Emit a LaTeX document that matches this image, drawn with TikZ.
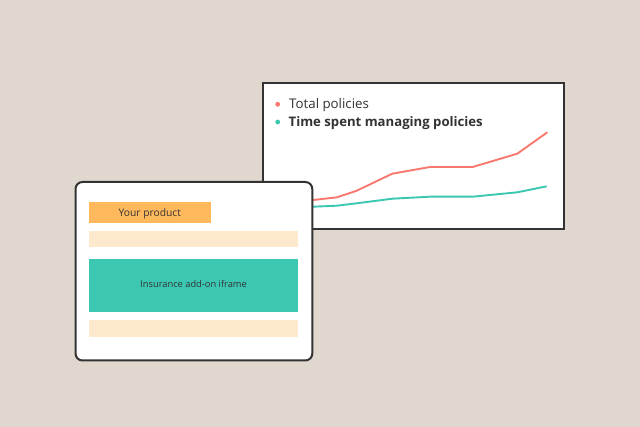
\documentclass[tikz,border=0pt]{standalone}
\usepackage{fontspec}
\setmainfont{Open Sans}
\definecolor{bgc}{HTML}{E0D7CE}
\definecolor{ink}{HTML}{333333}
\definecolor{redl}{HTML}{F9786F}
\definecolor{teall}{HTML}{3CC7B2}
\definecolor{orangeb}{HTML}{FFB95C}
\definecolor{paleb}{HTML}{FEE9CC}
\tikzset{
  x=1pt,y=-1pt,
  frame/.style={draw=ink,line width=2pt,fill=white},
  seriesline/.style={line width=1.9pt,line join=round},
  legendtext/.style={anchor=base west,inner sep=0pt,text=ink,font=\fontsize{13.3}{16}\selectfont},
  cardtext/.style={inner sep=0pt,text=ink},
  bullet/.style={circle,inner sep=0pt,minimum size=4.8pt},
}
\begin{document}
\begin{tikzpicture}
\useasboundingbox (0,0) rectangle (640,427);
\fill[bgc] (0,0) rectangle (640,427);
% chart panel
\draw[frame] (263.2,83) rectangle (564.2,229.5);
\draw[seriesline,redl] (290,201.5) -- (313,200) -- (337,197.3) -- (356.7,190.7) -- (392.3,173.7) -- (430,167) -- (472.7,167) -- (517.3,153.7) -- (547.3,132.3);
\draw[seriesline,teall] (290,207) -- (313,206.7) -- (337,205.7) -- (356.7,203.3) -- (392.3,198.7) -- (430,196.7) -- (472.7,196.7) -- (517.3,192.3) -- (546.7,186.3);
\node[bullet,fill=redl] (b1) at (277.7,104.3) {};
\node[bullet,fill=teall] (b2) at (277.7,122) {};
\node[legendtext] (l1) at (289,108.5) {Total policies};
\node[legendtext,font=\fontsize{13.15}{16}\selectfont\bfseries] (l2) at (288.5,127) {Time spent managing policies};
% product card
\draw[frame,rounded corners=7pt] (75.5,182) rectangle (312.3,360.5);
\fill[orangeb] (89,201.9) rectangle (210.5,223.3);
\fill[paleb] (89.3,230.7) rectangle (298.3,247);
\fill[teall] (89,259.4) rectangle (298,312.4);
\fill[paleb] (89,320) rectangle (298,336.7);
\node[cardtext,font=\fontsize{10.3}{12}\selectfont] (t1) at (149.8,214) {Your product};
\node[cardtext,font=\fontsize{9.3}{11}\selectfont] (t2) at (193.6,284.3) {Insurance add-on iframe};
\end{tikzpicture}
\end{document}
